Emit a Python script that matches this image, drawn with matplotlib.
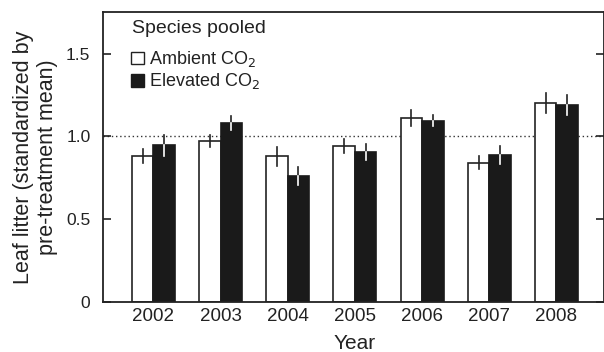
import numpy as np
import matplotlib
matplotlib.use("Agg")
import matplotlib.pyplot as plt
from matplotlib.patches import Patch

plt.rcParams['font.family'] = ['Liberation Sans', 'DejaVu Sans']

years = ["2002", "2003", "2004", "2005", "2006", "2007", "2008"]
ambient = [0.88, 0.97, 0.88, 0.94, 1.11, 0.84, 1.20]
ambient_se = [0.044, 0.035, 0.058, 0.043, 0.048, 0.040, 0.060]
elevated = [0.945, 1.08, 0.76, 0.905, 1.095, 0.885, 1.19]
elevated_se = [0.066, 0.040, 0.057, 0.048, 0.033, 0.055, 0.060]

fig = plt.figure(figsize=(6.04, 3.52), dpi=100)
ax = fig.add_axes([0.1705, 0.1429, 0.8287, 0.8222])

x = np.arange(len(years))
w = 0.32
ax.axhline(1.0, color="#333333", lw=1.0, ls=(0, (1, 2)), zorder=0)
ax.bar(x - w / 2, ambient, w, color="white", edgecolor="#222222", lw=1.2, zorder=2)
ax.bar(x + w / 2, elevated, w, color="#1a1a1a", edgecolor="#1a1a1a", lw=1.2, zorder=2)

# error bars: dark for open bars, white inside the filled bars
for xi, m, e in zip(x - w / 2, ambient, ambient_se):
    ax.plot([xi, xi], [m - e, m + e], color="#222222", lw=1.2, zorder=3)
for xi, m, e in zip(x + w / 2, elevated, elevated_se):
    ax.plot([xi, xi], [m, m + e], color="#222222", lw=1.2, zorder=3)
    ax.plot([xi, xi], [m - e, m], color="white", lw=1.2, zorder=3)

ax.set_xlim(-0.749, 6.70)
ax.set_ylim(0, 1.75)
ax.set_xticks(x)
ax.set_xticklabels(years)
ax.set_yticks([0, 0.5, 1.0, 1.5])
ax.set_yticklabels(["0", "0.5", "1.0", "1.5"])
ax.tick_params(axis="x", length=0, pad=4.3, labelsize=13.5, colors="#222222")
ax.tick_params(axis="y", direction="in", length=6, width=1.2, right=True,
               labelsize=12.5, pad=9, colors="#222222")
for s in ax.spines.values():
    s.set_linewidth(1.3)
    s.set_color("#222222")

ax.set_xlabel("Year", fontsize=15, color="#222222", va="top")
ax.xaxis.set_label_coords(0.5035, -0.110)
ax.set_ylabel("Leaf litter (standardized by\npre-treatment mean)", fontsize=15.5,
              color="#222222", linespacing=1.2)
ax.yaxis.set_label_coords(-0.0889, 0.50)

ax.text(0.058, 0.9285, "Species pooled", transform=ax.transAxes, fontsize=14,
        color="#222222", va="baseline", ha="left")
handles = [Patch(facecolor="white", edgecolor="#222222", lw=1.0),
           Patch(facecolor="#1a1a1a", edgecolor="#1a1a1a", lw=1.0)]
leg = ax.legend(handles, ["Ambient CO$_2$", "Elevated CO$_2$"],
                loc="upper left", bbox_to_anchor=(0.056, 0.872), frameon=False,
                fontsize=13, handlelength=0.72, handleheight=0.72,
                handletextpad=0.25, labelspacing=0.12,
                borderpad=0, borderaxespad=0)
for t in leg.get_texts():
    t.set_color("#222222")

fig.savefig("out.png", dpi=100)
